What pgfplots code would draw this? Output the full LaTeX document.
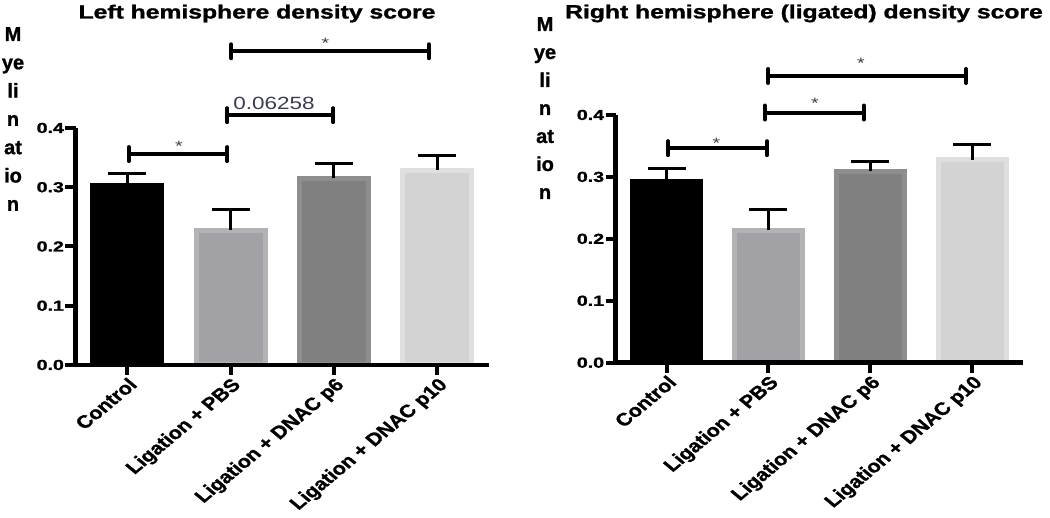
\documentclass[border=0pt]{standalone}
\usepackage{fontspec}
\setmainfont{Liberation Sans}[BoldFeatures={FakeBold=1.2}]
\usepackage{pgfplots}
\pgfplotsset{compat=1.18}
\definecolor{pbsin}{HTML}{A2A2A6}
\definecolor{pbsout}{HTML}{B3B3B6}
\definecolor{psixin}{HTML}{808080}
\definecolor{psixout}{HTML}{8E8E8E}
\definecolor{ptenin}{HTML}{D3D3D3}
\definecolor{ptenout}{HTML}{DFDFDF}
\definecolor{sig}{HTML}{3A3C50}
\pgfplotsset{prism/.style={
  scale only axis, ymin=0, ymax=0.4, xmin=-0.5, xmax=3.5,
  axis x line=bottom, axis y line=left,
  axis line style={line width=4.5pt,-},
  axis on top,
  xtick={0,1,2,3},
  xticklabels={Control, Ligation + PBS, Ligation + DNAC p6, Ligation + DNAC p10},
  ytick={0,0.1,0.2,0.3,0.4},
  /pgf/number format/assume math mode=true,
  yticklabel style={/pgf/number format/fixed, /pgf/number format/fixed zerofill,
    /pgf/number format/precision=1, font=\bfseries\fontsize{14.5}{15}\selectfont, inner sep=1pt, xscale=1.35},
  xticklabel style={anchor=north east, font=\bfseries\fontsize{17.8}{18}\selectfont, inner sep=1pt, xscale=1.2, rotate=45},
  tick align=outside, major tick length=10pt,
  tick style={line width=4pt, black},
  clip=false,
  ybar, bar shift=0pt,
  error bars/y dir=plus, error bars/y explicit,
  error bars/error bar style={line width=3pt, black, solid},
  error bars/error mark options={rotate=90, mark size=19pt, line width=3pt, black},
}}
\tikzset{star/.style={font=\fontsize{15}{15}\selectfont, text=sig, inner sep=0pt, xscale=1.3},
  sigtext/.style={font=\fontsize{17.7}{18}\selectfont, text=sig, inner sep=0pt, xscale=1.27}}
\newcommand{\bracket}[3]{%
  \draw[line width=4pt] (axis cs:#1,#3) -- (axis cs:#2,#3);
  \draw[line width=4pt,line cap=round] (axis cs:#1,#3) ++(0pt,-7pt) -- ++(0pt,14pt);
  \draw[line width=4pt,line cap=round] (axis cs:#2,#3) ++(0pt,-7pt) -- ++(0pt,14pt);}
\begin{document}
\begin{tikzpicture}
\path[use as bounding box] (0pt,0pt) rectangle (1050pt,518pt);
\node[anchor=base, inner sep=0pt, xscale=1.3, font=\bfseries\fontsize{19}{20}\selectfont] at (257pt,499.5pt) {Left hemisphere density score};
\node[anchor=base, inner sep=0pt, xscale=1.3, font=\bfseries\fontsize{19}{20}\selectfont] at (804pt,499.7pt) {Right hemisphere (ligated) density score};
\node[anchor=north, align=center, inner sep=0pt, font=\bfseries\fontsize{20}{28.3}\selectfont] at (13pt,491pt) {M\\ye\\li\\n\\at\\io\\n};
\node[anchor=north, align=center, inner sep=0pt, font=\bfseries\fontsize{20}{28}\selectfont] at (545pt,501pt) {M\\ye\\li\\n\\at\\io\\n};

\begin{axis}[prism, at={(75.5pt,153pt)}, anchor=south west, width=413.5pt, height=237pt, bar width=69pt]
\addplot[fill=black, draw=black, line width=5pt] coordinates {(0,0.303) +- (0,0.0196)};
\addplot[fill=pbsin, draw=pbsout, line width=5pt] coordinates {(1,0.227) +- (0,0.0356)};
\addplot[fill=psixin, draw=psixout, line width=5pt] coordinates {(2,0.315) +- (0,0.025)};
\addplot[fill=ptenin, draw=ptenout, line width=5pt] coordinates {(3,0.329) +- (0,0.024)};
\bracket{0.015}{0.969}{0.356}
\node[star] at (axis cs:0.5,0.369) {*};
\bracket{0.969}{1.995}{0.4216}
\node[sigtext] at (axis cs:1.42,0.442) {0.06258};
\bracket{1.005}{2.917}{0.5295}
\node[star] at (axis cs:1.917,0.543) {*};
\end{axis}

\begin{axis}[prism, at={(615.7pt,155.3pt)}, anchor=south west, width=407.3pt, height=247.7pt, bar width=68pt]
\addplot[fill=black, draw=black, line width=5pt] coordinates {(0,0.293) +- (0,0.021)};
\addplot[fill=pbsin, draw=pbsout, line width=5pt] coordinates {(1,0.214) +- (0,0.034)};
\addplot[fill=psixin, draw=psixout, line width=5pt] coordinates {(2,0.309) +- (0,0.016)};
\addplot[fill=ptenin, draw=ptenout, line width=5pt] coordinates {(3,0.328) +- (0,0.025)};
\bracket{0.014}{0.987}{0.3464}
\node[star] at (axis cs:0.49,0.355) {*};
\bracket{0.964}{1.937}{0.404}
\node[star] at (axis cs:1.456,0.4196) {*};
\bracket{0.997}{2.94}{0.463}
\node[star] at (axis cs:1.908,0.4827) {*};
\end{axis}
\end{tikzpicture}
\end{document}
